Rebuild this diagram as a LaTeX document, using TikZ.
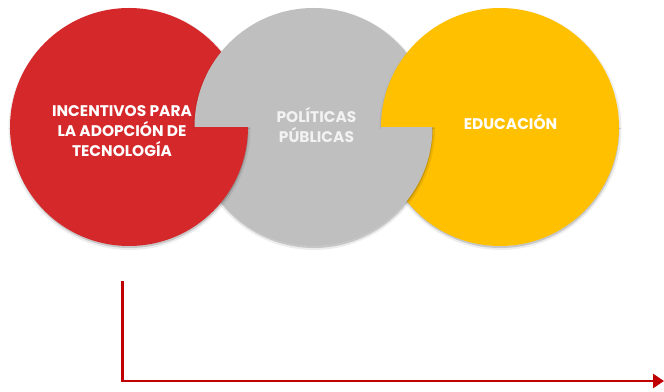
\documentclass[tikz,border=0pt]{standalone}
\usepackage{fontspec}
\setmainfont{Poppins}
\usetikzlibrary{arrows.meta}
\definecolor{cred}{HTML}{D5282B}
\definecolor{cgray}{HTML}{BFBFBF}
\definecolor{cyellow}{HTML}{FFC000}
\definecolor{carrow}{HTML}{C00000}
\definecolor{cgraytext}{HTML}{F2F2F2}
\tikzset{
  lbl/.style={align=center, inner sep=0pt, font=\bfseries\fontsize{15.4}{20}\selectfont},
  shadowfill/.style={fill=black, opacity=0.16},
  shadowring/.style={draw=black, opacity=0.07, line width=4pt},
  arrowline/.style={draw=carrow, line width=2.6pt, -{Triangle[length=11pt,width=14pt]}}
}
\begin{document}
\begin{tikzpicture}[x=1pt,y=1pt]
\useasboundingbox (0,0) rectangle (664,391);
\coordinate (cR) at (129,264);
\coordinate (cG) at (313.5,264);
\coordinate (cY) at (500,264);
% lower halves: yellow, gray, red
\foreach \c/\x/\col in {Y/500/cyellow, G/313.5/cgray, R/129/cred} {
  \begin{scope}
    \clip (\x-126,262) rectangle (\x+126,-5);
    \fill[shadowfill] ([shift={(0.5,-2)}]c\c) circle[radius=119];
    \draw[shadowring] ([shift={(0.5,-2)}]c\c) circle[radius=119];
  \end{scope}
  \begin{scope}
    \clip (\x-126,264.6) rectangle (\x+126,-5);
    \fill[\col] (c\c) circle[radius=119];
  \end{scope}
}
% upper halves: red, gray, yellow
\foreach \c/\x/\col in {R/129/cred, G/313.5/cgray, Y/500/cyellow} {
  \begin{scope}
    \clip (c\c) circle[radius=119] (-10,-10) -- (-10,400) -- (674,400) -- (674,-10) -- cycle;
    \clip (\x-126,262) rectangle (\x+126,396);
    \fill[shadowfill] ([shift={(0.5,-2)}]c\c) circle[radius=119];
    \draw[shadowring] ([shift={(0.5,-2)}]c\c) circle[radius=119];
  \end{scope}
  \begin{scope}
    \clip (\x-126,264) rectangle (\x+126,396);
    \fill[\col] (c\c) circle[radius=119];
  \end{scope}
}
% labels
\node[lbl, text=white] (tR) at (122,260) {INCENTIVOS PARA\\LA ADOPCIÓN DE\\TECNOLOGÍA};
\node[lbl, text=cgraytext] (tG) at (316.5,265.5) {POLÍTICAS\\PÚBLICAS};
\node[lbl, text=white] (tY) at (510.5,268.5) {EDUCACIÓN};
% arrow
\coordinate (a0) at (120.5,108.5);
\coordinate (a1) at (122.5,108.5);
\coordinate (a2) at (122.5,10);
\coordinate (a3) at (664,10);
\draw[arrowline] (a0) -- (a1) -- (a2) -- (a3);
\end{tikzpicture}
\end{document}
